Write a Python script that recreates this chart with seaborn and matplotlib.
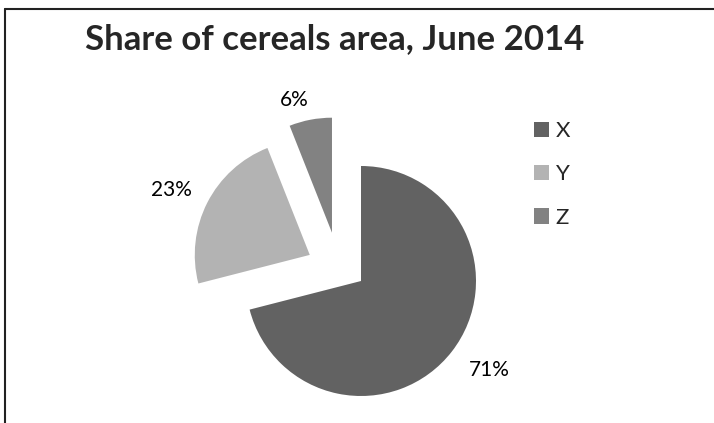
import numpy as np
import matplotlib
matplotlib.use("Agg")
import matplotlib.pyplot as plt
from matplotlib.lines import Line2D
from matplotlib.patches import Patch
import seaborn as sns

# data
categories = ["X", "Y", "Z"]
shares = [71, 23, 6]
colors = ["#626262", "#b3b3b3", "#828282"]

sns.set_theme(style="white")
plt.rcParams["font.family"] = ["Lato", "DejaVu Sans"]

fig = plt.figure(figsize=(7.14, 4.23), dpi=100)
W, H = 714, 423
cx, cy, r = 361, 281, 115  # pie centre / radius in pixels
ax = fig.add_axes([0, 0, 1, 1])

explode = [0, 0.5, 0.49]
explode_dir = [None, None, 121]   # Excel pushed Z off its bisector
label_dist = [1.36, 1.33, 1.2]
label_turn = [3, 2, 5]            # degrees past the bisector

wedges, _ = ax.pie(shares, colors=colors, startangle=90, counterclock=False,
                   explode=explode, radius=1, wedgeprops=dict(linewidth=0))
ax.set_xlim(-cx / r, (W - cx) / r)
ax.set_ylim(-(H - cy) / r, cy / r)
ax.axis("off")

for w, v, e, d, ang, turn in zip(wedges, shares, explode, label_dist, explode_dir, label_turn):
    mid = np.deg2rad((w.theta1 + w.theta2) / 2 + turn)
    if ang is not None:
        a = np.deg2rad(ang)
        w.set_center((e * np.cos(a), e * np.sin(a)))
    x0, y0 = w.center
    ax.text(x0 + d * np.cos(mid), y0 + d * np.sin(mid), f"{v}%",
            ha="center", va="center", fontsize=15, color="black")

fig.text(85 / W, 1 - 49 / H, "Share of cereals area, June 2014",
         fontsize=25, fontweight="bold", ha="left", va="baseline")

handles = [Patch(facecolor=c, edgecolor="none") for c in colors]
fig.legend(handles, categories, loc="upper left", bbox_to_anchor=(514 / W, 1 - 101 / H),
           frameon=False, fontsize=16, handlelength=0.68, handleheight=0.68,
           handletextpad=0.3, labelspacing=1.05)

# chart frame (left and top edges visible in the crop)
fig.add_artist(Line2D([5 / W, 5 / W], [0, 1 - 9.5 / H], color="#222222", lw=1.5))
fig.add_artist(Line2D([5 / W, 1], [1 - 9.5 / H, 1 - 9.5 / H], color="#222222", lw=1.5))

fig.savefig("out.png", dpi=100)
